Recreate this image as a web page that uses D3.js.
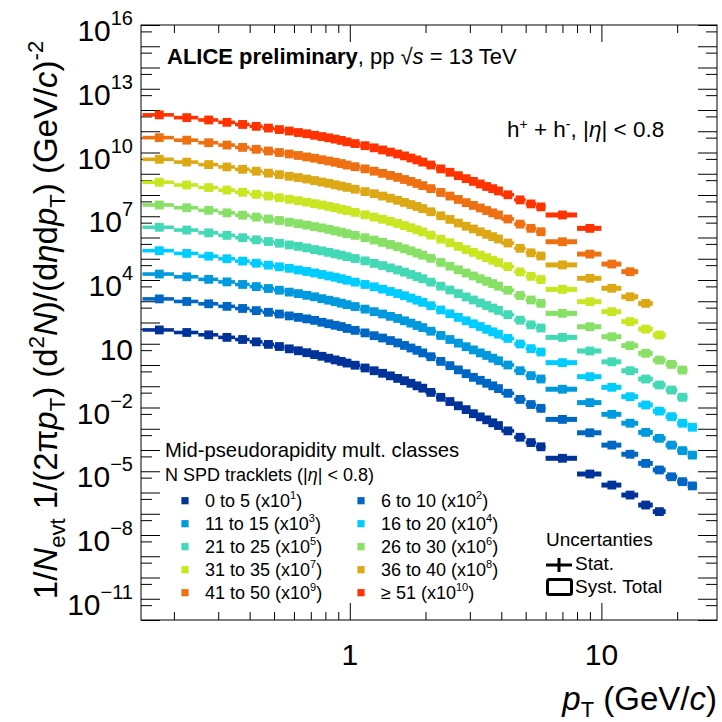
<!DOCTYPE html>
<html>
<head>
<meta charset="utf-8">
<script src="https://cdn.jsdelivr.net/npm/d3@7"></script>
<style>
  body { margin: 0; background: #fff; }
  text { font-family: "Liberation Sans", Arial, Helvetica, sans-serif; fill: #000; }
</style>
</head>
<body>
<svg id="chart" width="722" height="722"></svg>
<script>
// pT bin edges (GeV/c)
const ptEdges = [0.15,0.2,0.25,0.3,0.35,0.4,0.45,0.5,0.55,0.6,0.65,0.7,0.75,0.8,0.85,0.9,0.95,1.0,
  1.1,1.2,1.3,1.4,1.5,1.6,1.7,1.8,1.9,2.0,2.2,2.4,2.6,2.8,3.0,3.2,3.4,3.6,3.8,4.0,4.5,5.0,5.5,6,
  8,10,12,14,16,18,20,22,24];

// log10 of 1/Nevt 1/(2pi pT) d2N/(deta dpT), before the legend scale factor
const mult0to5   = [0.65,0.53,0.42,0.30,0.20,0.09,-0.03,-0.13,-0.24,-0.33,
  -0.42,-0.51,-0.59,-0.68,-0.76,-0.83,-0.91,-1.01,-1.14,-1.27,
  -1.39,-1.51,-1.63,-1.74,-1.86,-1.98,-2.09,-2.29,-2.52,-2.72,
  -2.92,-3.10,-3.29,-3.44,-3.58,-3.72,-3.85,-4.10,-4.40,-4.65,
  -4.85,-5.39,-6.13,-6.65,-7.12,-7.59,-7.90];
const mult6to10  = [1.11,0.99,0.88,0.76,0.66,0.56,0.48,0.40,0.31,0.24,
  0.17,0.10,0.01,-0.06,-0.13,-0.19,-0.28,-0.37,-0.49,-0.62,
  -0.73,-0.85,-0.96,-1.08,-1.20,-1.31,-1.43,-1.61,-1.83,-2.03,
  -2.23,-2.41,-2.58,-2.72,-2.86,-2.98,-3.11,-3.33,-3.62,-3.86,
  -4.04,-4.56,-5.19,-5.77,-6.20,-6.63,-6.94,-7.26,-7.49,-7.69];
const mult11to15 = [1.28,1.15,1.03,0.91,0.79,0.69,0.60,0.52,0.43,0.36,
  0.28,0.21,0.12,0.05,-0.02,-0.09,-0.16,-0.25,-0.37,-0.49,
  -0.60,-0.71,-0.81,-0.92,-1.03,-1.14,-1.24,-1.41,-1.61,-1.80,
  -1.97,-2.14,-2.29,-2.43,-2.55,-2.68,-2.80,-3.00,-3.27,-3.50,
  -3.66,-4.14,-4.77,-5.32,-5.74,-6.17,-6.45,-6.77,-7.03,-7.24];
const mult16to20 = [1.38,1.25,1.12,1.00,0.89,0.79,0.70,0.62,0.55,0.47,
  0.40,0.33,0.26,0.19,0.13,0.06,-0.01,-0.10,-0.21,-0.32,
  -0.43,-0.54,-0.64,-0.74,-0.85,-0.95,-1.05,-1.21,-1.41,-1.59,
  -1.76,-1.92,-2.06,-2.19,-2.32,-2.44,-2.55,-2.75,-3.01,-3.23,
  -3.39,-3.89,-4.55,-5.05,-5.49,-5.88,-6.17,-6.43,-6.74,-6.93];
const mult21to25 = [1.48,1.35,1.22,1.10,0.99,0.89,0.81,0.73,0.65,0.58,
  0.51,0.43,0.37,0.30,0.23,0.17,0.10,0.01,-0.10,-0.22,
  -0.32,-0.43,-0.53,-0.63,-0.74,-0.84,-0.94,-1.10,-1.29,-1.47,
  -1.64,-1.80,-1.94,-2.08,-2.20,-2.32,-2.43,-2.63,-2.89,-3.11,
  -3.26,-3.70,-4.34,-4.85,-5.27,-5.66,-5.94,-6.18,-6.52];
const mult26to30 = [1.53,1.40,1.28,1.16,1.05,0.96,0.87,0.80,0.72,0.65,
  0.58,0.51,0.45,0.38,0.31,0.25,0.18,0.10,-0.01,-0.12,
  -0.23,-0.33,-0.43,-0.53,-0.63,-0.73,-0.83,-0.98,-1.17,-1.35,
  -1.52,-1.67,-1.81,-1.94,-2.06,-2.17,-2.29,-2.48,-2.73,-2.94,
  -3.10,-3.57,-4.20,-4.67,-5.09,-5.45,-5.77,-5.97,-6.24];
const mult31to35 = [1.60,1.47,1.35,1.23,1.13,1.03,0.95,0.87,0.80,0.73,
  0.66,0.59,0.53,0.46,0.40,0.33,0.27,0.18,0.07,-0.04,
  -0.14,-0.24,-0.34,-0.44,-0.54,-0.64,-0.74,-0.89,-1.08,-1.25,
  -1.42,-1.57,-1.70,-1.83,-1.95,-2.07,-2.18,-2.37,-2.62,-2.83,
  -2.98,-3.44,-4.02,-4.49,-4.96,-5.31,-5.59];
const mult36to40 = [1.68,1.55,1.43,1.32,1.21,1.12,1.03,0.96,0.88,0.82,
  0.75,0.68,0.61,0.55,0.48,0.42,0.36,0.27,0.16,0.06,
  -0.05,-0.15,-0.25,-0.35,-0.45,-0.54,-0.64,-0.79,-0.98,-1.15,
  -1.32,-1.47,-1.60,-1.73,-1.85,-1.96,-2.07,-2.26,-2.51,-2.72,
  -2.87,-3.29,-3.92,-4.39,-4.79,-5.10];
const mult41to50 = [1.70,1.58,1.46,1.35,1.24,1.15,1.07,1.00,0.93,0.86,
  0.79,0.73,0.66,0.60,0.54,0.48,0.41,0.33,0.23,0.12,
  0.02,-0.08,-0.17,-0.27,-0.36,-0.46,-0.56,-0.70,-0.88,-1.05,
  -1.21,-1.36,-1.49,-1.61,-1.73,-1.84,-1.94,-2.13,-2.37,-2.57,
  -2.73,-3.20,-3.78,-4.25,-4.61];
const mult51plus = [1.77,1.64,1.53,1.42,1.32,1.23,1.15,1.08,1.01,0.94,
  0.88,0.81,0.75,0.69,0.63,0.57,0.50,0.42,0.32,0.22,
  0.12,0.02,-0.07,-0.16,-0.26,-0.35,-0.45,-0.59,-0.77,-0.93,
  -1.09,-1.23,-1.36,-1.48,-1.60,-1.70,-1.81,-1.99,-2.23,-2.42,
  -2.56,-2.94,-3.57];

const classLabels = ["0 to 5", "6 to 10", "11 to 15", "16 to 20", "21 to 25",
  "26 to 30", "31 to 35", "36 to 40", "41 to 50", "\u2265 51"];
const classScaleExp = [1, 2, 3, 4, 5, 6, 7, 8, 9, 10];
const classColors = ["#003399", "#0066c4", "#0099dd", "#00ccff", "#44d9b6",
  "#88e066", "#c8e622", "#dda815", "#ee7012", "#ff3300"];
const classValues = [mult0to5, mult6to10, mult11to15, mult16to20, mult21to25,
  mult26to30, mult31to35, mult36to40, mult41to50, mult51plus];

const yLabelExp = [-11, -8, -5, -2, 1, 4, 7, 10, 13, 16];
const xLabelValues = [1, 10];

const svg = d3.select("#chart");
const frameL = 141, frameR = 717, frameT = 25, frameB = 620;

const x = d3.scaleLog().domain([0.148, 28.8]).range([frameL, frameR]);
const y = d3.scaleLog().domain([1e-12, 1e16]).range([frameB, frameT]);

svg.append("rect").attr("width", 722).attr("height", 722).attr("fill", "#fff");

// ticks
const xMinor = [0.2,0.3,0.4,0.5,0.6,0.7,0.8,0.9,2,3,4,5,6,7,8,9,20];
const yDecades = d3.range(-12, 17).map(e => Math.pow(10, e));
const yFives = d3.range(-12, 16).map(e => 5 * Math.pow(10, e));

function styleAxis(g) {
  g.select(".domain").remove();
  g.selectAll(".tick line").attr("stroke", "#000").attr("stroke-width", 1);
}
svg.append("g").attr("transform", `translate(0,${frameB})`)
  .call(d3.axisBottom(x).tickValues(xMinor).tickSize(-8).tickFormat("")).call(styleAxis);
svg.append("g").attr("transform", `translate(0,${frameB})`)
  .call(d3.axisBottom(x).tickValues(xLabelValues).tickSize(-17).tickFormat("")).call(styleAxis);
svg.append("g").attr("transform", `translate(0,${frameT})`)
  .call(d3.axisTop(x).tickValues(xMinor).tickSize(-8).tickFormat("")).call(styleAxis);
svg.append("g").attr("transform", `translate(0,${frameT})`)
  .call(d3.axisTop(x).tickValues(xLabelValues).tickSize(-17).tickFormat("")).call(styleAxis);

svg.append("g").attr("transform", `translate(${frameL},0)`)
  .call(d3.axisLeft(y).tickValues(yDecades).tickSize(-19).tickFormat("")).call(styleAxis);
svg.append("g").attr("transform", `translate(${frameL},0)`)
  .call(d3.axisLeft(y).tickValues(yFives).tickSize(-11).tickFormat("")).call(styleAxis);
svg.append("g").attr("transform", `translate(${frameR},0)`)
  .call(d3.axisRight(y).tickValues(yDecades).tickSize(-19).tickFormat("")).call(styleAxis);
svg.append("g").attr("transform", `translate(${frameR},0)`)
  .call(d3.axisRight(y).tickValues(yFives).tickSize(-11).tickFormat("")).call(styleAxis);

// frame
svg.append("rect").attr("x", frameL).attr("y", frameT)
  .attr("width", frameR - frameL).attr("height", frameB - frameT)
  .attr("fill", "none").attr("stroke", "#000").attr("stroke-width", 1);

// y tick labels
yLabelExp.forEach(e => {
  const ty = y(Math.pow(10, e));
  const t = svg.append("text").attr("x", 133).attr("y", ty + 16)
    .attr("text-anchor", "end").style("font-size", "30px");
  t.append("tspan").text("10");
  if (e !== 1) {
    t.append("tspan").attr("dy", -16).style("font-size", "20px")
      .text(e < 0 ? "\u2212" + (-e) : e);
  }
});
// x tick labels
xLabelValues.forEach(v => {
  svg.append("text").attr("x", x(v)).attr("y", 665)
    .attr("text-anchor", "middle").style("font-size", "30px").text(v);
});

// axis titles
const xt = svg.append("text").attr("x", 717).attr("y", 710)
  .attr("text-anchor", "end").style("font-size", "33px");
xt.append("tspan").style("font-style", "italic").text("p");
xt.append("tspan").attr("dy", 7).style("font-size", "22px").text("T");
xt.append("tspan").attr("dy", -7).text(" (GeV/");
xt.append("tspan").style("font-style", "italic").text("c");
xt.append("tspan").text(")");

const yt = svg.append("text").attr("transform", "translate(57,320) rotate(-90)")
  .attr("text-anchor", "middle").style("font-size", "33px");
yt.append("tspan").text("1/");
yt.append("tspan").style("font-style", "italic").text("N");
yt.append("tspan").attr("dy", 8).style("font-size", "22px").text("evt");
yt.append("tspan").attr("dy", -8).text(" 1/(2\u03c0");
yt.append("tspan").style("font-style", "italic").text("p");
yt.append("tspan").attr("dy", 8).style("font-size", "22px").text("T");
yt.append("tspan").attr("dy", -8).text(") (d");
yt.append("tspan").attr("dy", -13).style("font-size", "22px").text("2");
yt.append("tspan").attr("dy", 13).style("font-style", "italic").text("N");
yt.append("tspan").text(")/(d");
yt.append("tspan").style("font-style", "italic").text("\u03b7");
yt.append("tspan").text("d");
yt.append("tspan").style("font-style", "italic").text("p");
yt.append("tspan").attr("dy", 8).style("font-size", "22px").text("T");
yt.append("tspan").attr("dy", -8).text(") (GeV/");
yt.append("tspan").style("font-style", "italic").text("c");
yt.append("tspan").text(")");
yt.append("tspan").attr("dy", -14).style("font-size", "22px").text("-2");

// data
const plot = svg.append("g");
classValues.forEach((vals, i) => {
  const color = classColors[i];
  const pts = vals.map((v, j) => ({
    lo: ptEdges[j], hi: ptEdges[j + 1],
    val: Math.pow(10, v + classScaleExp[i])
  }));
  plot.append("g").selectAll("rect").data(pts).join("rect")
    .attr("x", d => x(d.lo)).attr("width", d => x(d.hi) - x(d.lo))
    .attr("y", d => y(d.val) - (d.lo >= 6 ? 2.5 : 1.8))
    .attr("height", d => d.lo >= 6 ? 5 : 3.6)
    .attr("fill", color);
  plot.append("g").selectAll("rect").data(pts).join("rect")
    .attr("x", d => x((d.lo + d.hi) / 2) - 4.4).attr("y", d => y(d.val) - 4.4)
    .attr("width", 8.8).attr("height", 8.8)
    .attr("fill", color);
});

// header texts
const title = svg.append("text").attr("x", 167).attr("y", 64).style("font-size", "22px");
title.append("tspan").style("font-weight", "bold").text("ALICE preliminary");
title.append("tspan").text(", pp \u221a");
title.append("tspan").style("font-style", "italic").text("s");
title.append("tspan").text(" = 13 TeV");

const hh = svg.append("text").attr("x", 507).attr("y", 137).style("font-size", "22.5px");
hh.append("tspan").text("h");
hh.append("tspan").attr("dy", -8).style("font-size", "14px").text("+");
hh.append("tspan").attr("dy", 8).text(" + h");
hh.append("tspan").attr("dy", -8).style("font-size", "14px").text("-");
hh.append("tspan").attr("dy", 8).text(", |");
hh.append("tspan").style("font-style", "italic").text("\u03b7");
hh.append("tspan").text("| < 0.8");

// multiplicity legend
svg.append("text").attr("x", 165).attr("y", 457).style("font-size", "20.3px")
  .text("Mid-pseudorapidity mult. classes");
const sub = svg.append("text").attr("x", 165).attr("y", 481).style("font-size", "18px");
sub.append("tspan").text("N SPD tracklets (|");
sub.append("tspan").style("font-style", "italic").text("\u03b7");
sub.append("tspan").text("| < 0.8)");

classLabels.forEach((lab, i) => {
  const col = i % 2, row = Math.floor(i / 2);
  const cx = col === 0 ? 185 : 361;
  const cy = 500.7 + row * 23;
  svg.append("rect").attr("x", cx - 3.6).attr("y", cy - 3.6)
    .attr("width", 7.2).attr("height", 7.2).attr("fill", classColors[i]);
  const t = svg.append("text").attr("x", cx + 20).attr("y", cy + 6.5).style("font-size", "18px");
  t.append("tspan").text(lab + " (x10");
  t.append("tspan").attr("dy", -8).style("font-size", "11px").text(classScaleExp[i]);
  t.append("tspan").attr("dy", 8).text(")");
});

// uncertainty legend
svg.append("text").attr("x", 546).attr("y", 546).style("font-size", "19px").text("Uncertanties");
svg.append("line").attr("x1", 546).attr("x2", 572).attr("y1", 565).attr("y2", 565)
  .attr("stroke", "#000").attr("stroke-width", 3);
svg.append("line").attr("x1", 559).attr("x2", 559).attr("y1", 558).attr("y2", 572)
  .attr("stroke", "#000").attr("stroke-width", 3);
svg.append("text").attr("x", 575).attr("y", 570).style("font-size", "19px").text("Stat.");
svg.append("rect").attr("x", 547.5).attr("y", 579.5).attr("width", 24).attr("height", 15)
  .attr("rx", 2).attr("fill", "none").attr("stroke", "#000").attr("stroke-width", 3);
svg.append("text").attr("x", 575).attr("y", 593).style("font-size", "19px").text("Syst. Total");
</script>
</body>
</html>
